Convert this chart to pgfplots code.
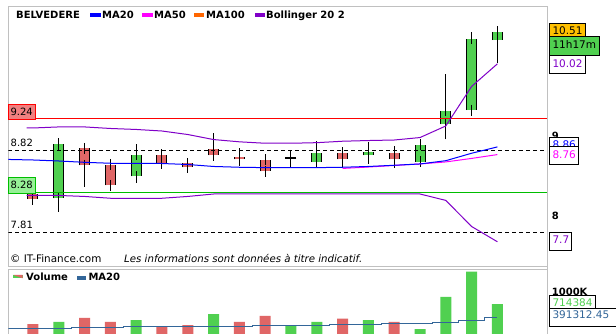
\documentclass[border=0pt]{standalone}
\usepackage{fontspec}
\setmainfont{DejaVu Sans}
\usepackage{pgfplots}
\pgfplotsset{compat=1.18}
\usepackage{pgfplotstable}

\definecolor{cgreen}{RGB}{80,208,80}
\definecolor{cred}{RGB}{224,102,102}
\definecolor{cpurple}{RGB}{128,0,200}
\definecolor{corange}{RGB}{255,102,0}
\definecolor{cframe}{RGB}{192,192,192}
\definecolor{cvolma}{RGB}{51,102,153}
\definecolor{cgold}{RGB}{255,192,0}
\definecolor{lred}{RGB}{240,128,128}
\definecolor{lgreen}{RGB}{150,240,150}
\definecolor{dgreen}{RGB}{0,190,0}
\definecolor{cmag}{RGB}{255,0,255}
\definecolor{cblue}{RGB}{0,0,255}

% candles: index, open, high, low, close
\pgfplotstableread{
i o h l c
0 8.26 8.27 8.16 8.20
2 8.84 8.90 8.35 8.62
3 8.63 8.63 8.31 8.37
5 8.755 8.82 8.617 8.643
6 8.648 8.712 8.575 8.597
7 8.833 9.045 8.712 8.751
8 8.729 8.842 8.617 8.699
9 8.69 8.751 8.478 8.546
12 8.781 8.781 8.597 8.699
14 8.781 8.872 8.592 8.699
}\redc
\pgfplotstableread{
i o h l c
1 8.21 8.98 8.05 8.895
4 8.48 8.90 8.40 8.755
11 8.668 8.94 8.668 8.781
13 8.751 8.925 8.643 8.794
15 8.668 8.886 8.643 8.886
16 9.16 9.87 8.96 9.345
17 9.355 10.50 9.335 10.40
18 10.38 10.51 10.03 10.51
}\greenc
\pgfplotstableread{
i o h l c
10 8.72 8.816 8.604 8.72
}\dojic
% volumes (thousands)
\pgfplotstableread{
i v
0 238
2 381
3 286
5 190
6 214
8 286
9 429
12 365
14 286
}\volred
\pgfplotstableread{
i v
1 286
4 333
7 476
10 207
11 286
13 333
15 119
16 881
17 1483
18 714
}\volgreen

\begin{document}
\begin{tikzpicture}[x=1pt,y=1pt]
\useasboundingbox (0,0) rectangle (616,334);
\fill[white] (0,0) rectangle (616,334);

\begin{axis}[
  at={(8.3pt,67.3pt)}, anchor=south west, scale only axis,
  width=539pt, height=260.7pt,
  xmin=-0.957, xmax=19.934,
  ymode=log, ymin=7.420, ymax=10.917,
  axis line style={cframe},
  xtick=\empty, ytick={8,9}, yticklabels={\textbf{8},\textbf{9}},
  minor ytick={}, yticklabel pos=right,
  major tick length=0pt, minor tick length=0pt,
  yticklabel style={anchor=west, xshift=1pt, font=\fontsize{10}{12}\selectfont},
  clip=true,
]
% wicks
\addplot[draw=none, forget plot, error bars/.cd, y dir=plus, y explicit, error mark=none,
  error bar style={draw=black, line width=1pt}]
  table[x=i, y=l, y error plus expr={\thisrow{h}-\thisrow{l}}] \redc;
\addplot[draw=none, forget plot, error bars/.cd, y dir=plus, y explicit, error mark=none,
  error bar style={draw=black, line width=1pt}]
  table[x=i, y=l, y error plus expr={\thisrow{h}-\thisrow{l}}] \greenc;
\addplot[draw=none, forget plot, error bars/.cd, y dir=plus, y explicit, error mark=none,
  error bar style={draw=black, line width=1pt}]
  table[x=i, y=l, y error plus expr={\thisrow{h}-\thisrow{l}}] \dojic;
% bodies: outline
\addplot[draw=none, forget plot, error bars/.cd, y dir=plus, y explicit, error mark=none,
  error bar style={draw=black, line width=11pt}]
  table[x=i, y expr={min(\thisrow{o},\thisrow{c})}, y error plus expr={abs(\thisrow{c}-\thisrow{o})}] \redc;
\addplot[draw=none, forget plot, error bars/.cd, y dir=plus, y explicit, error mark=none,
  error bar style={draw=black, line width=11pt}]
  table[x=i, y expr={min(\thisrow{o},\thisrow{c})}, y error plus expr={abs(\thisrow{c}-\thisrow{o})}] \greenc;
% bodies: fill + top/bottom edges
\addplot[draw=none, forget plot, error bars/.cd, y dir=both, y explicit, error mark=-,
  error mark options={draw=black, line width=1pt, mark size=5.5pt},
  error bar style={draw=cred, line width=9pt}]
  table[x=i, y expr={min(\thisrow{o},\thisrow{c})}, y error plus expr={abs(\thisrow{c}-\thisrow{o})}, y error minus expr={0}] \redc;
\addplot[draw=none, forget plot, error bars/.cd, y dir=both, y explicit, error mark=-,
  error mark options={draw=black, line width=1pt, mark size=5.5pt},
  error bar style={draw=cgreen, line width=9pt}]
  table[x=i, y expr={min(\thisrow{o},\thisrow{c})}, y error plus expr={abs(\thisrow{c}-\thisrow{o})}, y error minus expr={0}] \greenc;
% doji: horizontal bar at open = close
\addplot[only marks, forget plot, mark=-, mark size=5.5pt, mark options={draw=black, line width=2pt}]
  table[x=i, y=o] \dojic;

% horizontal reference lines
\addplot[red, line width=1pt] coordinates {(-0.957,9.24) (19.934,9.24)};
\addplot[black, line width=0.9pt, dash pattern=on 4pt off 3pt] coordinates {(-0.957,8.82) (19.934,8.82)};
\addplot[dgreen, line width=1pt] coordinates {(-0.957,8.28) (19.934,8.28)};
\addplot[black, line width=0.9pt, dash pattern=on 4pt off 3pt] coordinates {(-0.957,7.81) (19.934,7.81)};

% Bollinger upper / lower
\addplot[cpurple, line width=1pt] coordinates {
(-0.25,9.112) (0,9.112) (1,9.126) (2,9.126) (3,9.105) (4,9.092) (5,9.071) (6,9.024)
(7,8.957) (8,8.927) (9,8.908) (10,8.908) (11,8.916) (12,8.935) (13,8.944) (14,8.951)
(15,8.984) (16,9.139) (17,9.690) (18,10.02)};
\addplot[cpurple, line width=1pt] coordinates {
(-0.25,8.245) (0,8.245) (1,8.245) (2,8.233) (3,8.211) (4,8.211) (5,8.211) (6,8.233)
(7,8.263) (8,8.263) (9,8.263) (10,8.263) (11,8.263) (12,8.263) (13,8.263) (14,8.263)
(15,8.263) (16,8.185) (17,7.876) (18,7.70)};
% MA50
\addplot[cmag, line width=1pt] coordinates {
(12,8.582) (13,8.600) (14,8.620) (15,8.639) (16,8.665) (17,8.71) (18,8.76)};
% MA20
\addplot[cblue, line width=1pt] coordinates {
(-0.957,8.697) (0,8.690) (1,8.677) (2,8.660) (3,8.648) (4,8.648) (5,8.645) (6,8.632)
(7,8.607) (8,8.597) (9,8.592) (10,8.592) (11,8.592) (12,8.597) (13,8.607) (14,8.622)
(15,8.639) (16,8.681) (17,8.777) (18,8.86)};
\end{axis}

\begin{axis}[
  at={(8.3pt,-2pt)}, anchor=south west, scale only axis,
  width=539pt, height=66.7pt,
  xmin=-0.957, xmax=19.934, ymin=-47.6, ymax=1540.5,
  axis line style={cframe},
  xtick=\empty, ytick=\empty, clip=true,
]
\addplot[ybar, bar width=11pt, bar shift=0pt, fill=cred, draw=none] table[x=i, y=v] \volred;
\addplot[ybar, bar width=11pt, bar shift=0pt, fill=cgreen, draw=none] table[x=i, y=v] \volgreen;
\addplot[cvolma, line width=1pt, const plot mark mid] coordinates {
(-0.957,136) (0,136) (1,136) (2,160) (3,160) (4,183) (5,183) (6,183) (7,183) (8,183)
(9,207) (10,207) (11,207) (12,231) (13,231) (14,255) (15,255) (16,279) (17,310) (18,391)};
\end{axis}

% right frame line across panels
\draw[cframe, line width=1pt] (547.3,0) -- (547.3,328);

% top legend
\node[anchor=base west, inner sep=0] at (16,315.7) {\bfseries BELVEDERE};
\fill[cblue] (90,316.7) rectangle (101,321.3);
\node[anchor=base west, inner sep=0] at (102,315.7) {\bfseries MA20};
\fill[cmag] (142,316.7) rectangle (153,321.3);
\node[anchor=base west, inner sep=0] at (154,315.7) {\bfseries MA50};
\fill[corange] (194,316.7) rectangle (204,321.3);
\node[anchor=base west, inner sep=0] at (206,315.7) {\bfseries MA100};
\fill[cpurple] (255,316.7) rectangle (265,321.3);
\node[anchor=base west, inner sep=0] at (266,315.7) {\bfseries Bollinger 20 2};

% footer
\node[anchor=base west, inner sep=0, font=\fontsize{10.4}{12}\selectfont] at (10,71) {© IT-Finance.com};
\node[anchor=base west, inner sep=0, font=\fontsize{10.2}{12}\selectfont\itshape] at (124,71) {Les informations sont données à titre indicatif.};

% volume legend
\fill[cgreen] (13.3,55.7) rectangle (22.7,59);
\fill[cred] (13.3,59) -- (22.7,59) -- (22.7,55.7) -- cycle;
\node[anchor=base west, inner sep=0] at (26,53.3) {\bfseries Volume};
\fill[cvolma] (76.7,54) rectangle (86,58);
\node[anchor=base west, inner sep=0] at (88.3,53.3) {\bfseries MA20};

% left labels
\draw[red, fill=lred, line width=0.8pt] (8.3,215) rectangle (35,229.7);
\node[inner sep=0] at (21.7,222.3) {9.24};
\node[anchor=west, inner sep=0] at (10.5,191.3) {8.82};
\draw[dgreen, fill=lgreen, line width=0.8pt] (8.3,141) rectangle (35,156.7);
\node[inner sep=0] at (21.7,148.8) {8.28};
\node[anchor=west, inner sep=0] at (10.5,109) {7.81};

% right labels
\begin{scope}[every node/.style={anchor=west, inner sep=0, font=\fontsize{10.5}{12}\selectfont}]
\draw[black, fill=cgold, line width=0.8pt] (549.3,292.7) rectangle (585.7,310.7);
\node at (552.3,303.2) {10.51};
\draw[black, fill=cgreen, line width=0.8pt] (549.3,279) rectangle (599,297.3);
\node at (552.3,289.8) {11h17m};
\draw[black, fill=white, line width=0.8pt] (549.3,261) rectangle (585.7,279);
\node[text=cpurple] at (552.3,270) {10.02};
\draw[black, fill=white, line width=0.8pt] (549.3,178) rectangle (578.3,196.3);
\node[text=cblue] at (552.3,189.6) {8.86};
\draw[black, fill=white, line width=0.8pt] (549.3,169.7) rectangle (578.3,188);
\node[text=cmag] at (552.3,179.8) {8.76};
\draw[black, fill=white, line width=0.8pt] (549.3,84) rectangle (571.7,101.7);
\node[text=cpurple] at (552.3,94.5) {7.7};
\node[font=\fontsize{10}{12}\selectfont\bfseries] at (551.7,42.5) {1000K};
\draw[black, fill=white, line width=0.8pt] (549.3,20.3) rectangle (595.7,38.3);
\node[text=cgreen] at (552.3,31.7) {714384};
\draw[black, fill=white, line width=0.8pt] (549.3,7.3) rectangle (640,25.7);
\node[text=cvolma] at (552.3,19.8) {391312.45};
\end{scope}
\end{tikzpicture}
\end{document}
